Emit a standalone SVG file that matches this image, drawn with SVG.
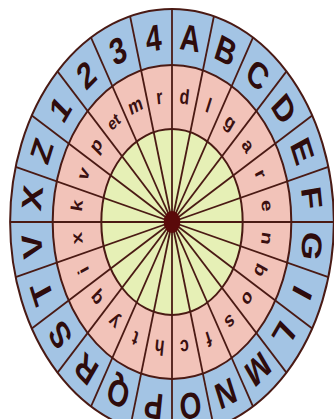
<svg xmlns="http://www.w3.org/2000/svg" width="334" height="419" viewBox="0 0 334 419">
<style>
.ring{stroke:#4a1a14;stroke-width:2;vector-effect:non-scaling-stroke}
.spk{stroke:#4a1a14;stroke-width:1.8;vector-effect:non-scaling-stroke}
.out{font-family:"Liberation Sans",Arial,sans-serif;font-weight:bold;font-size:37px;fill:#2e0c0c;text-anchor:middle}
.inn{font-family:"Liberation Sans",Arial,sans-serif;font-weight:bold;font-size:21px;fill:#3a1010;text-anchor:middle}
</style>
<rect width="334" height="419" fill="#ffffff"/>
<g transform="translate(172,222) scale(0.76,1)">
<g id="rings">
<circle class="ring" r="213" fill="#a3c4e4"/>
<circle class="ring" r="157" fill="#f2c3b9"/>
<circle class="ring" r="93" fill="#e6f0b6"/>
</g>
<g id="connectors">
<line class="spk" y2="-213" transform="rotate(0)"/>
<line class="spk" y2="-213" transform="rotate(15)"/>
<line class="spk" y2="-213" transform="rotate(30)"/>
<line class="spk" y2="-213" transform="rotate(45)"/>
<line class="spk" y2="-213" transform="rotate(60)"/>
<line class="spk" y2="-213" transform="rotate(75)"/>
<line class="spk" y2="-213" transform="rotate(90)"/>
<line class="spk" y2="-213" transform="rotate(105)"/>
<line class="spk" y2="-213" transform="rotate(120)"/>
<line class="spk" y2="-213" transform="rotate(135)"/>
<line class="spk" y2="-213" transform="rotate(150)"/>
<line class="spk" y2="-213" transform="rotate(165)"/>
<line class="spk" y2="-213" transform="rotate(180)"/>
<line class="spk" y2="-213" transform="rotate(195)"/>
<line class="spk" y2="-213" transform="rotate(210)"/>
<line class="spk" y2="-213" transform="rotate(225)"/>
<line class="spk" y2="-213" transform="rotate(240)"/>
<line class="spk" y2="-213" transform="rotate(255)"/>
<line class="spk" y2="-213" transform="rotate(270)"/>
<line class="spk" y2="-213" transform="rotate(285)"/>
<line class="spk" y2="-213" transform="rotate(300)"/>
<line class="spk" y2="-213" transform="rotate(315)"/>
<line class="spk" y2="-213" transform="rotate(330)"/>
<line class="spk" y2="-213" transform="rotate(345)"/>
</g>
<circle id="hub" r="11" fill="#5a0a0a"/>
<g id="outer-letters">
<text class="out" dy="0.36em" transform="rotate(7.5) translate(0,-186)">A</text>
<text class="out" dy="0.36em" transform="rotate(22.5) translate(0,-186)">B</text>
<text class="out" dy="0.36em" transform="rotate(37.5) translate(0,-186)">C</text>
<text class="out" dy="0.36em" transform="rotate(52.5) translate(0,-186)">D</text>
<text class="out" dy="0.36em" transform="rotate(67.5) translate(0,-186)">E</text>
<text class="out" dy="0.36em" transform="rotate(82.5) translate(0,-186)">F</text>
<text class="out" dy="0.36em" transform="rotate(97.5) translate(0,-186)">G</text>
<text class="out" dy="0.36em" transform="rotate(112.5) translate(0,-186)">I</text>
<text class="out" dy="0.36em" transform="rotate(127.5) translate(0,-186)">L</text>
<text class="out" dy="0.36em" transform="rotate(142.5) translate(0,-186)">M</text>
<text class="out" dy="0.36em" transform="rotate(157.5) translate(0,-186)">N</text>
<text class="out" dy="0.36em" transform="rotate(172.5) translate(0,-186)">O</text>
<text class="out" dy="0.36em" transform="rotate(187.5) translate(0,-186)">P</text>
<text class="out" dy="0.36em" transform="rotate(202.5) translate(0,-186)">Q</text>
<text class="out" dy="0.36em" transform="rotate(217.5) translate(0,-186)">R</text>
<text class="out" dy="0.36em" transform="rotate(232.5) translate(0,-186)">S</text>
<text class="out" dy="0.36em" transform="rotate(247.5) translate(0,-186)">T</text>
<text class="out" dy="0.36em" transform="rotate(262.5) translate(0,-186)">V</text>
<text class="out" dy="0.36em" transform="rotate(277.5) translate(0,-186)">X</text>
<text class="out" dy="0.36em" transform="rotate(292.5) translate(0,-186)">Z</text>
<text class="out" dy="0.36em" transform="rotate(307.5) translate(0,-186)">1</text>
<text class="out" dy="0.36em" transform="rotate(322.5) translate(0,-186)">2</text>
<text class="out" dy="0.36em" transform="rotate(337.5) translate(0,-186)">3</text>
<text class="out" dy="0.36em" transform="rotate(352.5) translate(0,-186)">4</text>
</g>
<g id="inner-letters">
<text class="inn" dy="0.33em" transform="rotate(7.5) translate(0,-126)">d</text>
<text class="inn" dy="0.33em" transform="rotate(22.5) translate(0,-126)">l</text>
<text class="inn" dy="0.33em" transform="rotate(37.5) translate(0,-126)">g</text>
<text class="inn" dy="0.33em" transform="rotate(52.5) translate(0,-126)">a</text>
<text class="inn" dy="0.33em" transform="rotate(67.5) translate(0,-126)">r</text>
<text class="inn" dy="0.33em" transform="rotate(82.5) translate(0,-126)">e</text>
<text class="inn" dy="0.33em" transform="rotate(97.5) translate(0,-126)">n</text>
<text class="inn" dy="0.33em" transform="rotate(112.5) translate(0,-126)">b</text>
<text class="inn" dy="0.33em" transform="rotate(127.5) translate(0,-126)">o</text>
<text class="inn" dy="0.33em" transform="rotate(142.5) translate(0,-126)">s</text>
<text class="inn" dy="0.33em" transform="rotate(157.5) translate(0,-126)">f</text>
<text class="inn" dy="0.33em" transform="rotate(172.5) translate(0,-126)">c</text>
<text class="inn" dy="0.33em" transform="rotate(187.5) translate(0,-126)">h</text>
<text class="inn" dy="0.33em" transform="rotate(202.5) translate(0,-126)">t</text>
<text class="inn" dy="0.33em" transform="rotate(217.5) translate(0,-126)">y</text>
<text class="inn" dy="0.33em" transform="rotate(232.5) translate(0,-126)">q</text>
<text class="inn" dy="0.33em" transform="rotate(247.5) translate(0,-126)">i</text>
<text class="inn" dy="0.33em" transform="rotate(262.5) translate(0,-126)">x</text>
<text class="inn" dy="0.33em" transform="rotate(277.5) translate(0,-126)">k</text>
<text class="inn" dy="0.33em" transform="rotate(292.5) translate(0,-126)">v</text>
<text class="inn" dy="0.33em" transform="rotate(307.5) translate(0,-126)">p</text>
<text class="inn" dy="0.33em" transform="rotate(322.5) translate(0,-126)" style="font-size:18px">et</text>
<text class="inn" dy="0.33em" transform="rotate(337.5) translate(0,-126)">m</text>
<text class="inn" dy="0.33em" transform="rotate(352.5) translate(0,-126)">r</text>
</g>
</g>
</svg>
